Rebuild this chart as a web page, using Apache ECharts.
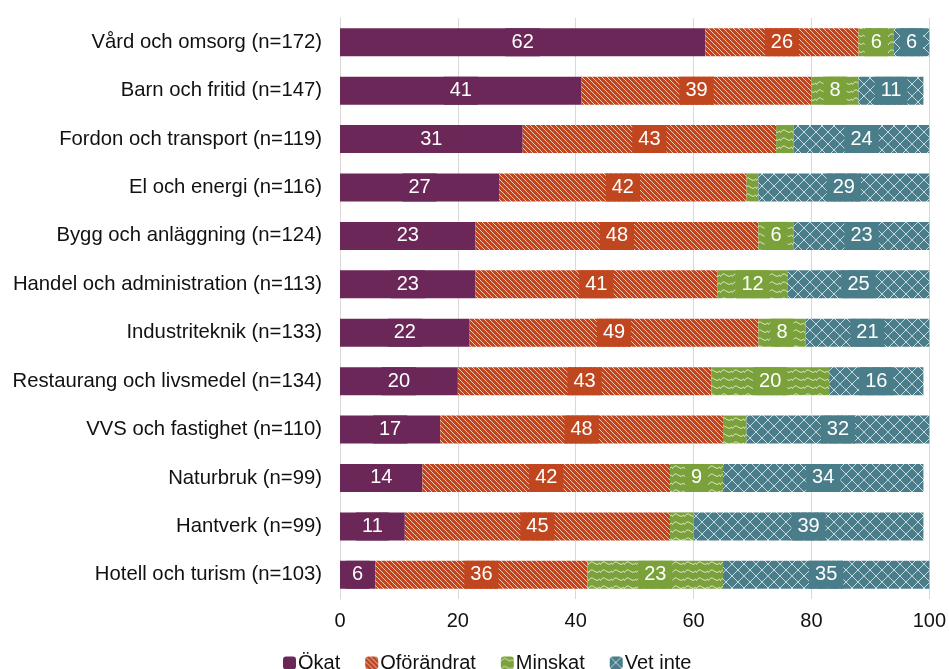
<!DOCTYPE html>
<html><head><meta charset="utf-8">
<script src="https://cdn.jsdelivr.net/npm/echarts@6/dist/echarts.min.js"></script>
<style>html,body{margin:0;padding:0;background:#fff}#c{width:949px;height:669px}</style>
</head><body><div id="c"></div>
<script>
const categories = ["Vård och omsorg (n=172)","Barn och fritid (n=147)","Fordon och transport (n=119)","El och energi (n=116)","Bygg och anläggning (n=124)","Handel och administration (n=113)","Industriteknik (n=133)","Restaurang och livsmedel (n=134)","VVS och fastighet (n=110)","Naturbruk (n=99)","Hantverk (n=99)","Hotell och turism (n=103)"];
const seriesNames = ["Ökat","Oförändrat","Minskat","Vet inte"];
const okat = [62,41,31,27,23,23,22,20,17,14,11,6];
const oforandrat = [26,39,43,42,48,41,49,43,48,42,45,36];
const minskat = [6,8,3,2,6,12,8,20,4,9,4,23];
const vetInte = [6,11,24,29,23,25,21,16,32,34,39,35];
const xTicks = [0,20,40,60,80,100];

const baseColors = ['#6B2757','#C0461F','#7BA13A','#4A7D8A'];
const FONT = 'Liberation Sans, Arial, sans-serif';

function makeTile(w,h,bg,draw){
  const c=document.createElement('canvas');c.width=w;c.height=h;
  const g=c.getContext('2d');g.fillStyle=bg;g.fillRect(0,0,w,h);
  g.strokeStyle='rgba(255,255,255,0.7)';g.lineWidth=1;draw(g);return c;
}
const stripe = makeTile(5,5,baseColors[1],g=>{
  g.beginPath();
  for(let k=-5;k<=5;k+=5){g.moveTo(k,0);g.lineTo(k+5,5);}
  g.stroke();
});
const wave = makeTile(12,8,baseColors[2],g=>{
  g.beginPath();
  g.moveTo(0,5);g.quadraticCurveTo(3,0,6,3);g.quadraticCurveTo(9,6,12,3);
  g.stroke();
});
const lattice = makeTile(12,12,baseColors[3],g=>{
  g.beginPath();
  g.moveTo(0,0);g.lineTo(12,12);
  g.moveTo(12,0);g.lineTo(0,12);
  g.stroke();
});
const fills=[baseColors[0],{image:stripe,repeat:'repeat'},{image:wave,repeat:'repeat'},{image:lattice,repeat:'repeat'}];
const values=[okat,oforandrat,minskat,vetInte];

const series = seriesNames.map((name,i)=>({
  name, type:'bar', stack:'total', barWidth:28,
  itemStyle:{color:fills[i]},
  label:{show:true,position:'inside',color:'#fff',fontSize:20,fontFamily:FONT,
    backgroundColor:baseColors[i],padding:[3,6,3,6],lineHeight:22},
  emphasis:{disabled:true},
  data: values[i].map(v=>v<5?{value:v,label:{show:false}}:v)
}));

const chart = echarts.init(document.getElementById('c'),null,{renderer:'canvas'});
chart.setOption({
  animation:false,
  textStyle:{fontFamily:FONT},
  grid:{left:340,right:16,top:18,bottom:70,containLabel:false},
  legend:{top:648,left:278,itemWidth:13,itemHeight:13,itemGap:25,
    textStyle:{fontSize:20,color:'#111',padding:[0,0,0,-3]},
    data:seriesNames},
  xAxis:{type:'value',min:0,max:100,interval:20,
    axisLine:{show:false},axisTick:{show:false},
    axisLabel:{fontSize:20,color:'#111',margin:12,formatter:v=>xTicks.includes(v)?String(v):''},
    splitLine:{lineStyle:{color:'#d9d9d9',width:1}}},
  yAxis:{type:'category',data:categories,inverse:true,
    axisLine:{show:true,lineStyle:{color:'#d9d9d9'}},axisTick:{show:false},
    axisLabel:{fontSize:20.3,color:'#111',margin:18}},
  series
});
</script></body></html>
